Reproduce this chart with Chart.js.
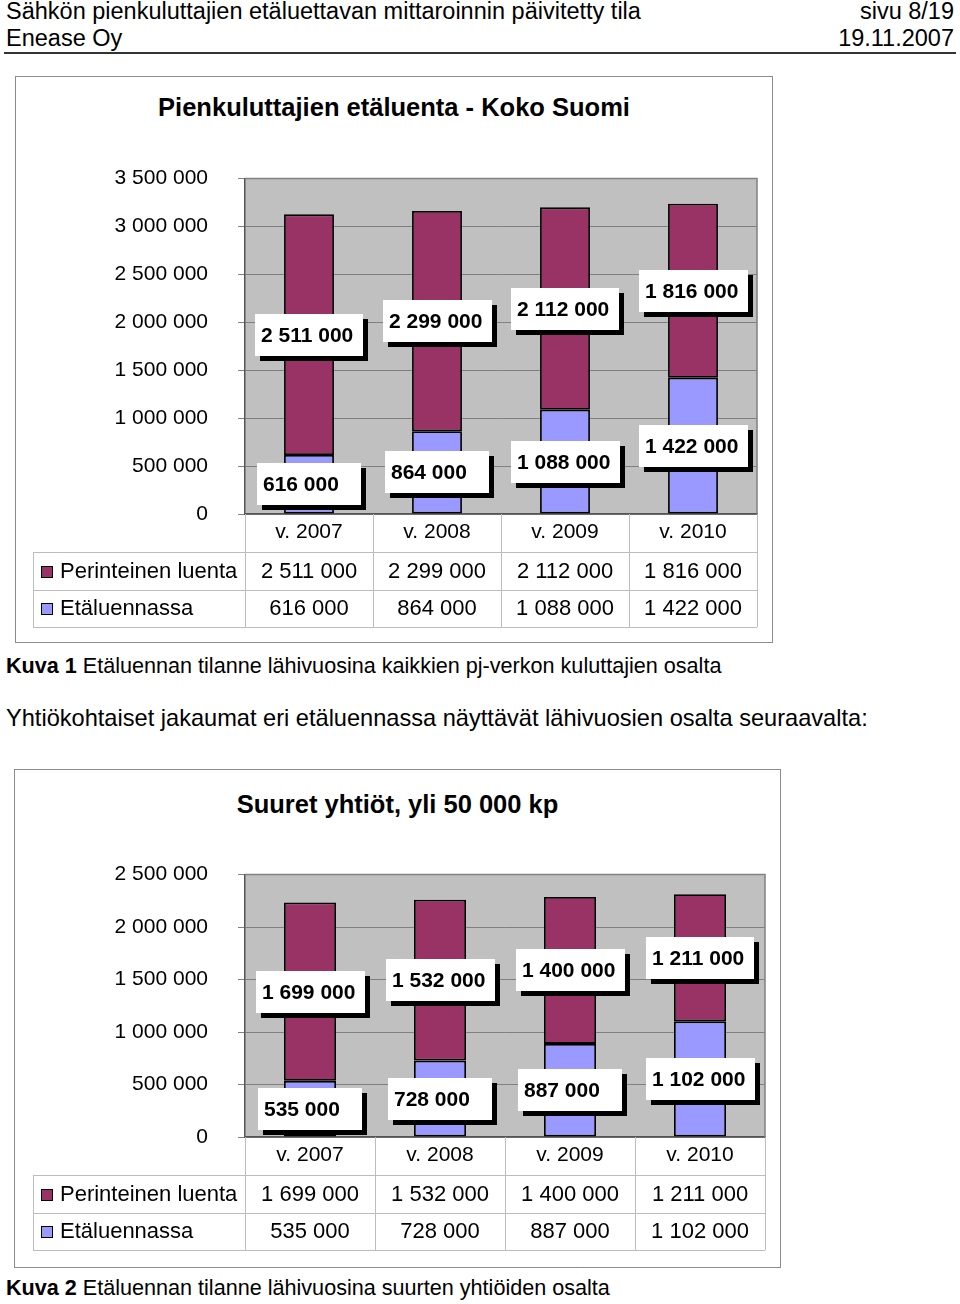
<!DOCTYPE html>
<html>
<head>
<meta charset="utf-8">
<script src="https://cdn.jsdelivr.net/npm/chart.js@4.4.1/dist/chart.umd.min.js"></script>
<style>
  body { margin: 0; width: 960px; height: 1304px; background: #fff; position: relative; overflow: hidden;
         font-family: "Liberation Sans", Arial, sans-serif; color: #000; }
  .t { position: absolute; white-space: nowrap; line-height: 1; }
  .frame { position: absolute; border: 1px solid #8c8c8c; box-sizing: border-box; }
  .rule { position: absolute; left: 4px; top: 52px; width: 952px; height: 0; border-top: 2px solid #333; }
  canvas { position: absolute; }
</style>
</head>
<body>
<div class="t" style="left:6px;top:0px;font-size:23.5px">Sähkön pienkuluttajien etäluettavan mittaroinnin päivitetty tila</div>
<div class="t" style="right:6px;top:0px;font-size:23.5px">sivu 8/19</div>
<div class="t" style="left:6px;top:27px;font-size:23.5px">Enease Oy</div>
<div class="t" style="right:6px;top:27px;font-size:23.5px">19.11.2007</div>
<div class="rule"></div>

<div class="frame" style="left:15px;top:76px;width:758px;height:567px"></div>
<div class="t" style="left:15px;top:95px;width:758px;text-align:center;font-size:25.5px;font-weight:bold">Pienkuluttajien etäluenta - Koko Suomi</div>
<canvas id="chartAll" width="780" height="504" style="left:0;top:136px"></canvas>

<div class="t" style="left:6px;top:655px;font-size:21.6px"><b>Kuva 1</b> Etäluennan tilanne lähivuosina kaikkien pj-verkon kuluttajien osalta</div>
<div class="t" style="left:6px;top:707px;font-size:23.6px">Yhtiökohtaiset jakaumat eri etäluennassa näyttävät lähivuosien osalta seuraavalta:</div>

<div class="frame" style="left:14px;top:769px;width:767px;height:499px"></div>
<div class="t" style="left:14px;top:792px;width:767px;text-align:center;font-size:25.5px;font-weight:bold">Suuret yhtiöt, yli 50 000 kp</div>
<canvas id="chartLarge" width="790" height="428" style="left:0;top:832px"></canvas>

<div class="t" style="left:6px;top:1277px;font-size:21.6px"><b>Kuva 2</b> Etäluennan tilanne lähivuosina suurten yhtiöiden osalta</div>

<script>
const categories = ["v. 2007", "v. 2008", "v. 2009", "v. 2010"];
const seriesNames = ["Perinteinen luenta", "Etäluennassa"];

// koko Suomi
const allTraditional = [2511000, 2299000, 2112000, 1816000];
const allRemote = [616000, 864000, 1088000, 1422000];
const allAxisMax = 3500000;

// suuret yhtiöt
const largeTraditional = [1699000, 1532000, 1400000, 1211000];
const largeRemote = [535000, 728000, 887000, 1102000];
const largeAxisMax = 2500000;

const tickStep = 500000;

const traditionalColor = "#993366";
const remoteColor = "#9999ff";
const fontName = '"Liberation Sans", Arial, sans-serif';

function formatNumber(value) {
  return String(value).replace(/\B(?=(\d{3})+(?!\d))/g, " ");
}

const plotBackground = {
  id: "plotBackground",
  beforeDraw(chart) {
    const { ctx, chartArea: a } = chart;
    ctx.save();
    ctx.fillStyle = "#c0c0c0";
    ctx.fillRect(a.left, a.top, a.right - a.left, a.bottom - a.top);
    ctx.restore();
  },
  afterDraw(chart) {
    const { ctx, chartArea: a } = chart;
    ctx.save();
    ctx.strokeStyle = "#808080";
    ctx.lineWidth = 1.5;
    ctx.beginPath();
    ctx.moveTo(a.left, a.top);
    ctx.lineTo(a.right, a.top);
    ctx.lineTo(a.right, a.bottom);
    ctx.stroke();
    ctx.restore();
  }
};

// valkoiset arvolaatikot mustalla varjolla
const boxLabels = {
  id: "boxLabels",
  afterDatasetsDraw(chart) {
    const ctx = chart.ctx;
    ctx.save();
    ctx.font = "bold 21px " + fontName;
    ctx.textBaseline = "middle";
    chart.data.datasets.forEach((dataset, di) => {
      chart.getDatasetMeta(di).data.forEach((bar, i) => {
        const text = formatNumber(dataset.data[i]);
        const w = Math.round(Math.max(104, ctx.measureText(text).width + 16));
        const h = 42;
        const x0 = Math.round(bar.x - w / 2);
        const y0 = Math.round((bar.y + bar.base) / 2 - h / 2);
        ctx.fillStyle = "#000";
        ctx.fillRect(x0 + 5, y0 + 5, w, h);
        ctx.fillStyle = "#fff";
        ctx.fillRect(x0, y0, w, h);
        ctx.fillStyle = "#000";
        ctx.fillText(text, x0 + 6, y0 + h / 2 + 1);
      });
    });
    ctx.restore();
  }
};

// arvotaulukko kaavion alla
const dataTable = {
  id: "dataTable",
  afterDraw(chart, args, opts) {
    const { ctx, chartArea: a, scales: { x } } = chart;
    const half = (x.getPixelForValue(1) - x.getPixelForValue(0)) / 2;
    const rowH = opts.rowHeight;
    const top1 = x.bottom;
    const top2 = top1 + rowH;
    const bottom = top2 + rowH;
    const left = opts.left;

    ctx.save();
    ctx.strokeStyle = "#bdbdbd";
    ctx.lineWidth = 1;
    ctx.beginPath();
    [top1, top2, bottom].forEach(yy => {
      ctx.moveTo(left, Math.round(yy) + 0.5);
      ctx.lineTo(a.right, Math.round(yy) + 0.5);
    });
    ctx.moveTo(left + 0.5, top1);
    ctx.lineTo(left + 0.5, bottom);
    for (let i = 0; i <= chart.data.labels.length; i++) {
      const xx = Math.round(x.getPixelForValue(0) - half + 2 * half * i) + 0.5;
      ctx.moveTo(xx, a.bottom);
      ctx.lineTo(xx, bottom);
    }
    ctx.stroke();

    ctx.font = "22px " + fontName;
    ctx.textBaseline = "middle";
    const rows = chart.data.datasets.slice().reverse();
    rows.forEach((dataset, r) => {
      const cy = top1 + rowH * r + rowH / 2 + 1;
      ctx.fillStyle = dataset.backgroundColor;
      ctx.fillRect(left + 8, Math.round(cy - 6), 12, 12);
      ctx.strokeStyle = "#000";
      ctx.strokeRect(left + 8.5, Math.round(cy - 6) + 0.5, 11, 11);
      ctx.fillStyle = "#000";
      ctx.textAlign = "left";
      ctx.fillText(dataset.label, left + 27, cy);
      ctx.textAlign = "center";
      dataset.data.forEach((v, i) => {
        ctx.fillText(formatNumber(v), x.getPixelForValue(i), cy);
      });
    });
    ctx.restore();
  }
};

function makeChart(canvasId, traditional, remote, axisMax, pad, barShare) {
  return new Chart(document.getElementById(canvasId), {
    type: "bar",
    data: {
      labels: categories,
      datasets: [
        { label: seriesNames[1], data: remote, backgroundColor: remoteColor },
        { label: seriesNames[0], data: traditional, backgroundColor: traditionalColor }
      ]
    },
    options: {
      responsive: false,
      animation: false,
      events: [],
      layout: { padding: pad },
      datasets: {
        bar: {
          barPercentage: barShare,
          categoryPercentage: 1,
          borderColor: "#000",
          borderWidth: 1.8,
          borderSkipped: false
        }
      },
      plugins: {
        legend: { display: false },
        tooltip: { enabled: false },
        dataTable: { left: 33, rowHeight: 37.5 }
      },
      scales: {
        x: {
          stacked: true,
          grid: { display: false, drawTicks: false, tickLength: 0 },
          border: { display: true, color: "#555", width: 1.5 },
          ticks: { color: "#000", font: { family: fontName, size: 21 }, padding: 6, maxRotation: 0 },
          afterFit(scale) { scale.height = 38; }
        },
        y: {
          stacked: true,
          min: 0,
          max: axisMax,
          grid: { color: "#808080", tickLength: 7 },
          border: { display: true, color: "#555", width: 1.5 },
          ticks: { stepSize: tickStep, color: "#000", font: { family: fontName, size: 21 }, padding: 30,
                   callback: v => formatNumber(v) },
          afterFit(scale) { scale.width = 245; }
        }
      }
    },
    plugins: [plotBackground, boxLabels, dataTable]
  });
}

makeChart("chartAll", allTraditional, allRemote, allAxisMax,
  { top: 0, right: 23, bottom: 88, left: 0 }, 0.39);
makeChart("chartLarge", largeTraditional, largeRemote, largeAxisMax,
  { top: 0, right: 25, bottom: 85, left: 0 }, 0.40);
</script>
</body>
</html>
